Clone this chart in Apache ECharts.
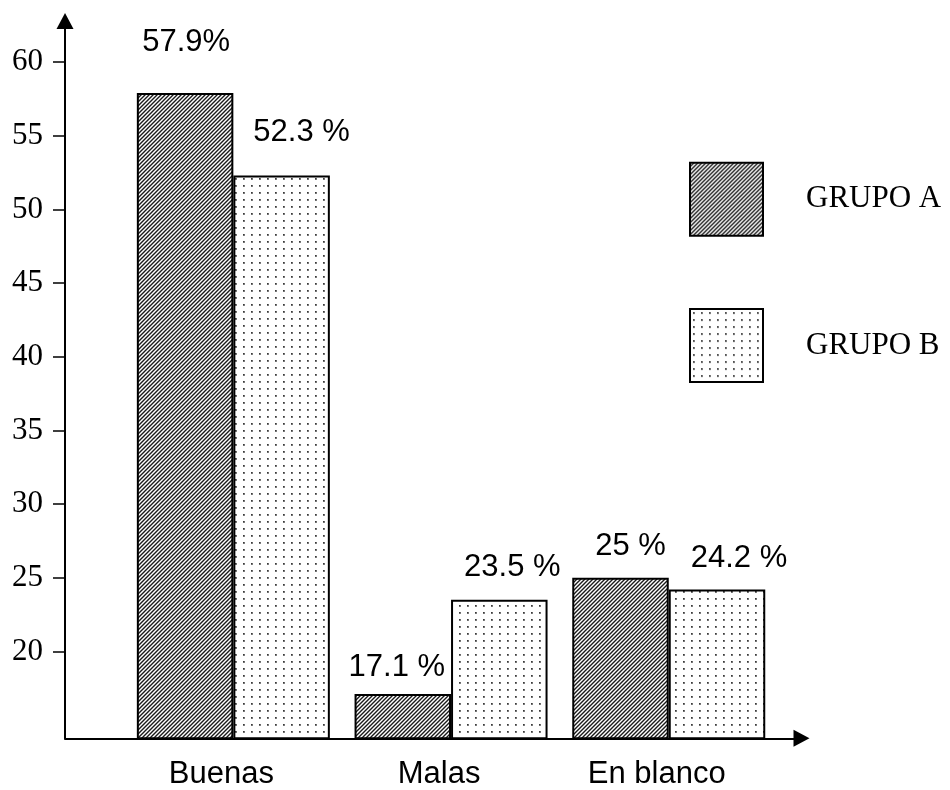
<!DOCTYPE html>
<html>
<head>
<meta charset="utf-8">
<script src="https://cdn.jsdelivr.net/npm/echarts@6.0.0/dist/echarts.min.js"></script>
<style>
  html, body { margin: 0; padding: 0; background: #ffffff; }
  #chart { width: 950px; height: 790px; }
</style>
</head>
<body>
<div id="chart"></div>
<script>
// Survey results per answer type, in percent
const categories = ['Buenas', 'Malas', 'En blanco'];
const grupoA = [57.9, 17.1, 25];
const grupoB = [52.3, 23.5, 24.2];
const seriesNames = ['GRUPO A', 'GRUPO B'];
const yTicks = [20, 25, 30, 35, 40, 45, 50, 55, 60];
const yMin = 14.1;
const yMax = 62.8;

// Label placement relative to the top of each bar: [dx, dy]
const labelShiftA = [[1, -35], [-6, -11], [10, -16]];
const labelShiftB = [[20, -28], [13, -17], [22, -16]];

// Diagonal hatch fill
function hatchPattern() {
  const c = document.createElement('canvas');
  c.width = 4; c.height = 4;
  const g = c.getContext('2d');
  g.fillStyle = '#ffffff';
  g.fillRect(0, 0, 4, 4);
  g.strokeStyle = '#1a1a1a';
  g.lineWidth = 1.4;
  g.beginPath();
  g.moveTo(-1, 5); g.lineTo(5, -1);
  g.moveTo(-1, 1); g.lineTo(1, -1);
  g.moveTo(3, 5); g.lineTo(5, 3);
  g.stroke();
  return c;
}

// Sparse dot fill on a regular grid
function dotPattern() {
  const c = document.createElement('canvas');
  c.width = 8; c.height = 7;
  const g = c.getContext('2d');
  g.fillStyle = '#ffffff';
  g.fillRect(0, 0, 8, 7);
  g.fillStyle = '#9a9a9a';
  g.fillRect(3, 3, 2, 2);
  g.fillStyle = '#3a3a3a';
  g.fillRect(3, 3, 1.5, 1.5);
  return c;
}

const fillA = { image: hatchPattern(), repeat: 'repeat' };
const fillB = { image: dotPattern(), repeat: 'repeat' };

const sansFont = '"Liberation Sans", Arial, sans-serif';
const serifFont = '"Liberation Serif", "Times New Roman", serif';

function barData(values, shifts) {
  return values.map((v, i) => ({
    value: v,
    label: { offset: shifts[i] }
  }));
}

function percentText(p) {
  // the first group's first value is printed without a space before the sign
  return p.value + (p.seriesIndex === 0 && p.dataIndex === 0 ? '%' : ' %');
}

const gridTop = 20.9;
const gridBottom = 51.7;

const chart = echarts.init(document.getElementById('chart'), null, { renderer: 'canvas' });

chart.setOption({
  backgroundColor: '#ffffff',
  animation: false,
  grid: [
    // axes frame
    { left: 65, right: 148.5, top: gridTop, bottom: gridBottom, outerBoundsMode: 'none', containLabel: false },
    // bar area
    { left: 124.5, right: 172.4, top: gridTop, bottom: gridBottom, outerBoundsMode: 'none', containLabel: false }
  ],
  xAxis: [
    {
      type: 'value', gridIndex: 0, min: 0, max: 1,
      axisLine: {
        show: true, lineStyle: { color: '#000', width: 2 },
        symbol: ['none', 'triangle'], symbolSize: [17, 16]
      },
      axisTick: { show: false },
      axisLabel: { show: false },
      splitLine: { show: false }
    },
    {
      type: 'category', gridIndex: 1, data: categories,
      axisLine: { show: false },
      axisTick: { show: false },
      splitLine: { show: false },
      axisLabel: {
        show: true, margin: 21, color: '#000',
        fontFamily: sansFont, fontSize: 31,
        padding: [0, 24, 0, 0]
      }
    }
  ],
  yAxis: [
    {
      type: 'value', gridIndex: 0, min: yMin, max: yMax,
      axisLine: {
        show: true, lineStyle: { color: '#000', width: 2 },
        symbol: ['none', 'triangle'], symbolSize: [17, 16]
      },
      axisTick: {
        show: true, inside: false, length: 12,
        customValues: yTicks,
        lineStyle: { color: '#000', width: 1.5 }
      },
      axisLabel: {
        show: true, margin: 22, color: '#000',
        fontFamily: serifFont, fontSize: 31,
        customValues: yTicks
      },
      splitLine: { show: false }
    },
    {
      type: 'value', gridIndex: 1, min: yMin, max: yMax, show: false,
      splitLine: { show: false }
    }
  ],
  legend: {
    orient: 'vertical',
    left: 689, top: 161.7,
    padding: 0,
    itemWidth: 73, itemHeight: 73,
    itemGap: 71.4,
    icon: 'rect',
    selectedMode: false,
    itemStyle: { borderColor: '#000', borderWidth: 2 },
    textStyle: {
      fontFamily: serifFont, fontSize: 31, color: '#000',
      padding: [0, 0, 0, 38]
    },
    data: [
      { name: seriesNames[0], textStyle: { padding: [0, 0, 10, 38] } },
      { name: seriesNames[1] }
    ]
  },
  series: [
    {
      name: seriesNames[0], type: 'bar',
      xAxisIndex: 1, yAxisIndex: 1,
      barWidth: 96.5, barGap: '0%',
      data: barData(grupoA, labelShiftA),
      itemStyle: { color: fillA, borderColor: '#000', borderWidth: 2 },
      label: {
        show: true, position: 'top', distance: 0,
        formatter: percentText,
        fontFamily: sansFont, fontSize: 31, color: '#000'
      }
    },
    {
      name: seriesNames[1], type: 'bar',
      xAxisIndex: 1, yAxisIndex: 1,
      barWidth: 96.5, barGap: '0%',
      data: barData(grupoB, labelShiftB),
      itemStyle: { color: fillB, borderColor: '#000', borderWidth: 2 },
      label: {
        show: true, position: 'top', distance: 0,
        formatter: percentText,
        fontFamily: sansFont, fontSize: 31, color: '#000'
      }
    }
  ]
});
</script>
</body>
</html>
